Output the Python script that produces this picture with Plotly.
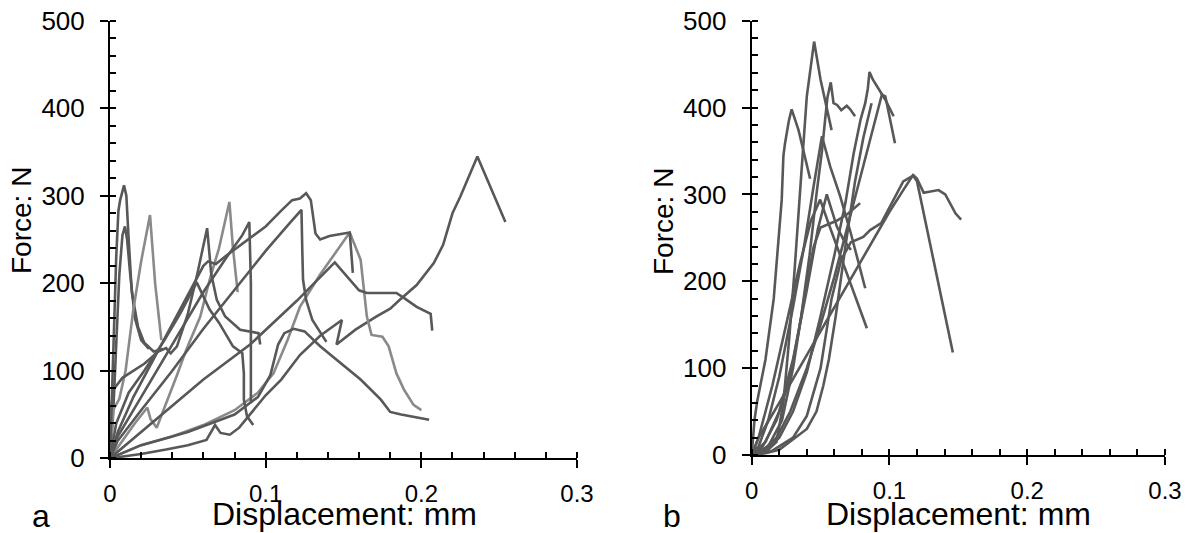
import plotly.graph_objects as go

# ---------------- Panel a: displacement (mm) / force (N) curves ----------------
a1_d = [0, 0.02, 0.036, 0.05, 0.062, 0.0675, 0.071, 0.077, 0.083, 0.09, 0.1, 0.11, 0.122, 0.135, 0.149,
        0.1455, 0.1577, 0.171, 0.18, 0.186, 0.197, 0.208, 0.214, 0.22, 0.225, 0.236, 0.254]
a1_f = [0, 5, 10, 15, 21, 38, 29, 27, 35, 50, 72, 90, 118, 140, 158,
        130, 147, 162, 171, 181, 198, 223, 244, 280, 299, 345, 270]

a2_d = [0, 0.002, 0.004, 0.0054, 0.0065, 0.009, 0.0105, 0.012, 0.014, 0.018, 0.022, 0.028, 0.034]
a2_f = [0, 120, 230, 283, 295, 312, 300, 250, 190, 150, 132, 122, 125]

a3_d = [0, 0.002, 0.004, 0.006, 0.008, 0.0096, 0.011, 0.013, 0.016, 0.02, 0.025]
a3_f = [0, 50, 130, 210, 255, 265, 250, 210, 160, 135, 125]

a4_d = [0, 0.002, 0.006, 0.01, 0.015, 0.02, 0.0257, 0.029, 0.033]
a4_f = [0, 55, 68, 100, 170, 225, 278, 200, 135]

a5_d = [0, 0.008, 0.016, 0.024, 0.026, 0.03, 0.036, 0.043, 0.049, 0.058, 0.064, 0.07, 0.0767, 0.079, 0.082]
a5_f = [0, 20, 40, 58, 45, 35, 62, 95, 124, 162, 204, 240, 293, 240, 190]

a6_d = [0, 0.02, 0.04, 0.06, 0.08, 0.095, 0.105, 0.114, 0.122, 0.135, 0.154, 0.161, 0.165, 0.168,
        0.175, 0.179, 0.184, 0.189, 0.195, 0.2]
a6_f = [0, 15, 25, 38, 55, 75, 97, 135, 173, 210, 258, 227, 162, 141,
        139, 128, 97, 78, 61, 55]

a7_d = [0, 0.005, 0.015, 0.03, 0.045, 0.055, 0.06, 0.063, 0.068, 0.075, 0.085, 0.1, 0.11, 0.117, 0.122,
        0.126, 0.129, 0.132, 0.135, 0.141, 0.154, 0.156]
a7_f = [0, 30, 70, 120, 170, 205, 220, 225, 222, 232, 245, 265, 283, 295, 297,
        303, 295, 257, 250, 254, 258, 212]

a8_d = [0, 0.005, 0.02, 0.04, 0.06, 0.08, 0.1, 0.115, 0.123, 0.1235, 0.124, 0.126, 0.13, 0.139]
a8_f = [0, 20, 55, 100, 148, 193, 237, 268, 284, 240, 204, 181, 158, 133]

a9_d = [0, 0.005, 0.02, 0.04, 0.06, 0.075, 0.085, 0.0895, 0.0905, 0.0905]
a9_f = [0, 25, 70, 130, 190, 230, 255, 270, 200, 63]

a10_d = [0, 0.01, 0.03, 0.06, 0.09, 0.12, 0.1444, 0.16, 0.165, 0.184, 0.189, 0.197, 0.206, 0.207]
a10_f = [0, 15, 45, 90, 130, 180, 224, 192, 189, 189, 183, 173, 165, 146]

a11_d = [0, 0.004, 0.012, 0.022, 0.035, 0.045, 0.0557, 0.06, 0.064, 0.07, 0.079, 0.085, 0.086, 0.086,
         0.088, 0.092]
a11_f = [0, 40, 75, 100, 135, 165, 201, 185, 170, 155, 128, 120, 97, 67, 48, 38]

a12_d = [0, 0.001, 0.002, 0.008, 0.022, 0.031, 0.036, 0.039, 0.043, 0.05, 0.056, 0.0624, 0.065, 0.0686,
         0.074, 0.0836, 0.0954, 0.0965]
a12_f = [0, 60, 78, 92, 108, 122, 126, 120, 128, 165, 210, 263, 211, 181, 162, 147, 143, 130]

a13_d = [0, 0.02, 0.05, 0.08, 0.095, 0.103, 0.108, 0.112, 0.118, 0.125, 0.135, 0.148, 0.161, 0.174,
         0.18, 0.187, 0.205]
a13_f = [0, 15, 30, 50, 70, 95, 130, 143, 148, 145, 128, 109, 90, 67, 53, 50, 44]

panel_a = [
    (a1_d, a1_f, "dark"), (a2_d, a2_f, "dark"), (a3_d, a3_f, "dark"), (a4_d, a4_f, "light"),
    (a5_d, a5_f, "light"), (a6_d, a6_f, "light"), (a7_d, a7_f, "dark"), (a8_d, a8_f, "dark"),
    (a9_d, a9_f, "dark"), (a10_d, a10_f, "dark"), (a11_d, a11_f, "dark"), (a12_d, a12_f, "dark"),
    (a13_d, a13_f, "dark"),
]

# ---------------- Panel b ----------------
b1_d = [0, 0.01, 0.018, 0.023, 0.027, 0.031, 0.035, 0.04, 0.0453, 0.05, 0.058]
b1_f = [0, 3, 15, 60, 130, 210, 301, 413, 476, 432, 374]

b2_d = [0, 0.002, 0.004, 0.01, 0.016, 0.019, 0.0218, 0.023, 0.0242, 0.027, 0.029, 0.034, 0.0375, 0.0424]
b2_f = [0, 40, 62, 110, 180, 240, 294, 344, 359, 385, 398, 374, 351, 318]

b3_d = [0, 0.008, 0.018, 0.028, 0.036, 0.042, 0.047, 0.051, 0.0533, 0.055, 0.0574, 0.0594, 0.062,
        0.065, 0.069, 0.0715, 0.075]
b3_f = [0, 10, 40, 90, 160, 230, 300, 350, 386, 412, 429, 405, 403, 397, 402, 398, 390]

b4_d = [0, 0.005, 0.012, 0.02, 0.03, 0.038, 0.045, 0.051, 0.057, 0.0642, 0.072, 0.0824]
b4_f = [0, 10, 40, 90, 170, 240, 310, 367, 332, 298, 255, 192]

b5_d = [0, 0.01, 0.02, 0.03, 0.04, 0.05, 0.06, 0.068, 0.074, 0.079, 0.0824, 0.0843, 0.0855, 0.088,
        0.097, 0.103]
b5_f = [0, 5, 20, 50, 95, 160, 230, 290, 347, 386, 405, 422, 441, 432, 409, 390]

b6_d = [0, 0.008, 0.018, 0.028, 0.04, 0.05, 0.06, 0.07, 0.08, 0.09, 0.0945, 0.097, 0.104]
b6_f = [0, 5, 20, 50, 100, 150, 205, 265, 325, 385, 415, 413, 359]

b7_d = [0, 0.01, 0.02, 0.03, 0.04, 0.047, 0.052, 0.056, 0.061, 0.068, 0.075, 0.081, 0.087]
b7_f = [0, 2, 6, 18, 30, 50, 80, 110, 160, 240, 315, 365, 405]

b8_d = [0, 0.015, 0.03, 0.04, 0.05, 0.058, 0.065, 0.072, 0.081, 0.086, 0.094, 0.105, 0.11, 0.1175,
        0.12, 0.1248, 0.1356, 0.1405, 0.144, 0.148, 0.152]
b8_f = [0, 5, 20, 45, 100, 180, 225, 245, 251, 259, 267, 301, 315, 322,
        318, 302, 305, 300, 290, 278, 271]

b9_d = [0, 0.005, 0.02, 0.04, 0.06, 0.08, 0.1, 0.11, 0.117, 0.12, 0.146]
b9_f = [0, 20, 60, 115, 170, 225, 280, 305, 322, 315, 118]

b10_d = [0, 0.005, 0.015, 0.025, 0.035, 0.043, 0.0497, 0.055, 0.062, 0.07, 0.0836]
b10_f = [0, 20, 80, 150, 220, 270, 294, 270, 240, 205, 146]

b11_d = [0, 0.01, 0.02, 0.03, 0.04, 0.048, 0.0545, 0.058, 0.0618, 0.0666, 0.072]
b11_f = [0, 15, 50, 110, 190, 260, 300, 282, 263, 248, 236]

b12_d = [0, 0.012, 0.022, 0.03, 0.038, 0.045, 0.05, 0.055, 0.062, 0.07, 0.0787]
b12_f = [0, 10, 40, 100, 180, 240, 262, 265, 270, 278, 290]

panel_b = [(b1_d, b1_f), (b2_d, b2_f), (b3_d, b3_f), (b4_d, b4_f), (b5_d, b5_f), (b6_d, b6_f),
           (b7_d, b7_f), (b8_d, b8_f), (b9_d, b9_f), (b10_d, b10_f), (b11_d, b11_f), (b12_d, b12_f)]

x_ticks = [0, 0.1, 0.2, 0.3]
x_tick_text = ["0", "0.1", "0.2", "0.3"]
y_ticks = [0, 100, 200, 300, 400, 500]

COLORS = {"dark": "#585858", "light": "#8a8a8a"}
FONT = "Liberation Sans, Arial, sans-serif"
W, H = 1191, 533

fig = go.Figure()
for d, f, tone in panel_a:
    fig.add_trace(go.Scatter(x=d, y=f, mode="lines", xaxis="x", yaxis="y",
                             line=dict(color=COLORS[tone], width=2.6), showlegend=False,
                             hoverinfo="skip"))
for d, f in panel_b:
    fig.add_trace(go.Scatter(x=d, y=f, mode="lines", xaxis="x2", yaxis="y2",
                             line=dict(color=COLORS["dark"], width=2.6), showlegend=False,
                             hoverinfo="skip"))
# empty traces that carry the overlay axes (inner half of the major ticks)
fig.add_trace(go.Scatter(x=[], y=[], xaxis="x3", yaxis="y3", showlegend=False))
fig.add_trace(go.Scatter(x=[], y=[], xaxis="x4", yaxis="y4", showlegend=False))

xdom_a = [110 / W, 577 / W]
xdom_b = [751.7 / W, 1165 / W]
ydom_a = [1 - 458.3 / H, 1 - 20.8 / H]
ydom_b = [1 - 455 / H, 1 - 20.7 / H]


def x_main(dom, anchor):
    return dict(domain=dom, anchor=anchor, range=[0, 0.3], showgrid=False, zeroline=False,
                showline=True, linecolor="black", linewidth=2,
                tickmode="array", tickvals=x_ticks, ticktext=x_tick_text,
                ticks="outside", ticklen=8, tickwidth=2, tickcolor="black",
                ticklabelstandoff=5,
                tickfont=dict(family=FONT, size=24, color="black"),
                minor=dict(ticks="inside", ticklen=6, tickwidth=2, tickcolor="black",
                           dtick=0.02, tick0=0, showgrid=False))


def y_main(dom, anchor):
    return dict(domain=dom, anchor=anchor, range=[0, 500], showgrid=False, zeroline=False,
                showline=True, linecolor="black", linewidth=2,
                tickmode="array", tickvals=y_ticks,
                ticks="outside", ticklen=8, tickwidth=2, tickcolor="black",
                ticklabelstandoff=10,
                tickfont=dict(family=FONT, size=26, color="black"),
                minor=dict(ticks="inside", ticklen=6, tickwidth=2, tickcolor="black",
                           dtick=20, tick0=0, showgrid=False))


def x_inner(over, anchor):
    return dict(overlaying=over, anchor=anchor, range=[0, 0.3], showgrid=False, zeroline=False,
                showline=False, tickmode="array", tickvals=x_ticks, ticks="inside",
                ticklen=6, tickwidth=2, tickcolor="black", showticklabels=False)


def y_inner(over, anchor):
    return dict(overlaying=over, anchor=anchor, range=[0, 500], showgrid=False, zeroline=False,
                showline=False, tickmode="array", tickvals=y_ticks, ticks="inside",
                ticklen=6, tickwidth=2, tickcolor="black", showticklabels=False)


fig.update_layout(
    width=W, height=H, autosize=False,
    margin=dict(l=0, r=0, t=0, b=0, autoexpand=False),
    paper_bgcolor="white", plot_bgcolor="white",
    font=dict(family=FONT, color="black"),
    xaxis=x_main(xdom_a, "y"), yaxis=y_main(ydom_a, "x"),
    xaxis2=x_main(xdom_b, "y2"), yaxis2=y_main(ydom_b, "x2"),
    xaxis3=x_inner("x", "y"), yaxis3=y_inner("y", "x"),
    xaxis4=x_inner("x2", "y2"), yaxis4=y_inner("y2", "x2"),
)

labels = [
    dict(text="Displacement: mm", x=344 / W, y=1 - 514 / H, size=32, angle=0),
    dict(text="Displacement: mm", x=958 / W, y=1 - 514 / H, size=32, angle=0),
    dict(text="Force: N", x=22 / W, y=1 - 221 / H, size=28, angle=-90),
    dict(text="Force: N", x=664 / W, y=1 - 221 / H, size=28, angle=-90),
    dict(text="a", x=41 / W, y=1 - 516 / H, size=32, angle=0),
    dict(text="b", x=672 / W, y=1 - 516 / H, size=32, angle=0),
]
for lab in labels:
    fig.add_annotation(text=lab["text"], x=lab["x"], y=lab["y"], xref="paper", yref="paper",
                       xanchor="center", yanchor="middle", showarrow=False,
                       textangle=lab["angle"],
                       font=dict(family=FONT, size=lab["size"], color="black"))

fig.write_html("out.html")
